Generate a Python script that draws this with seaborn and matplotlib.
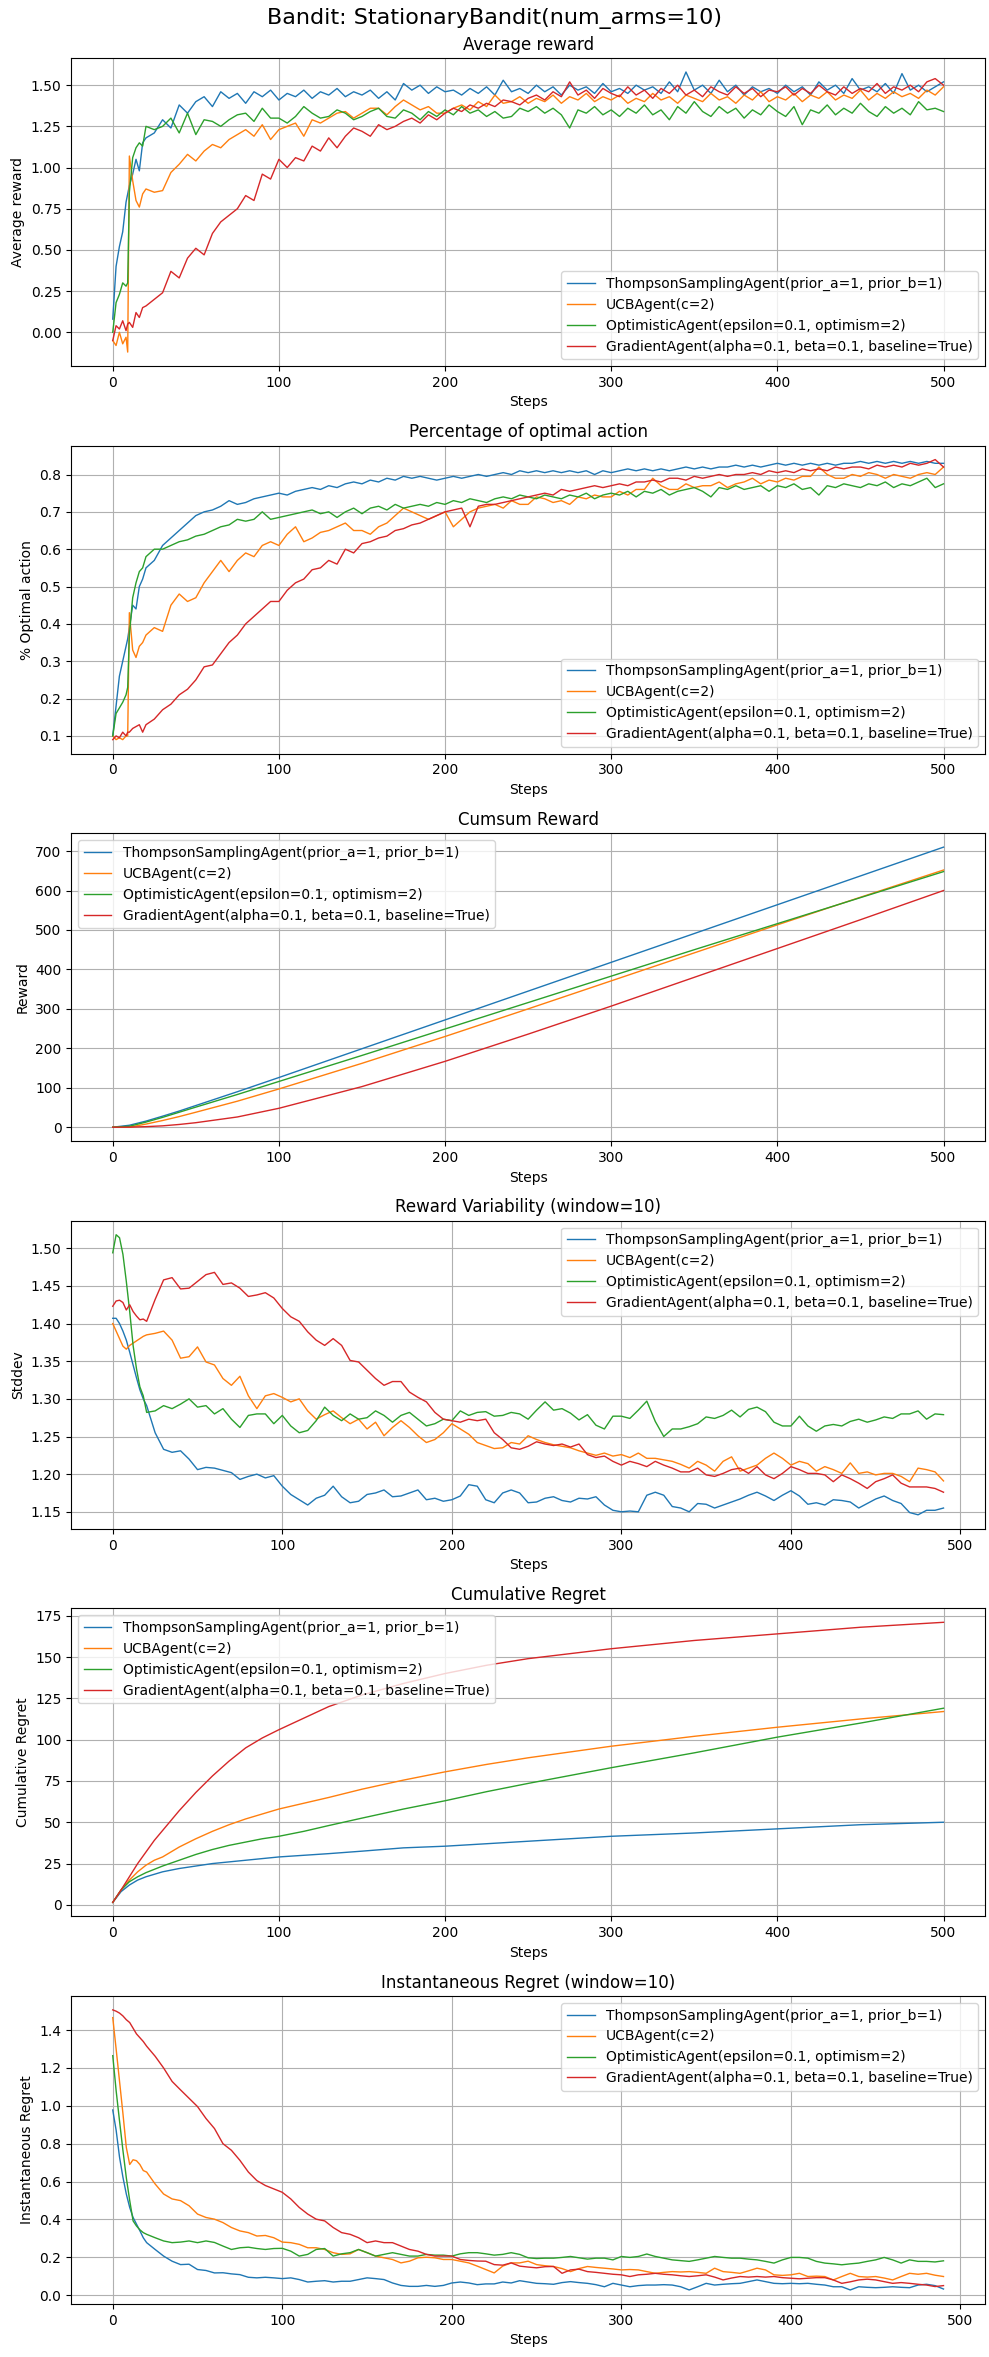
import matplotlib
matplotlib.use("Agg")
import matplotlib.pyplot as plt
import seaborn as sns

AGENTS = [
    "ThompsonSamplingAgent(prior_a=1, prior_b=1)",
    "UCBAgent(c=2)",
    "OptimisticAgent(epsilon=0.1, optimism=2)",
    "GradientAgent(alpha=0.1, beta=0.1, baseline=True)",
]
COLORS = ["#1f77b4", "#ff7f0e", "#2ca02c", "#d62728"]

# steps for the two per-step panels (dense at the start)
STEPS = [0, 2, 4, 6, 8, 9, 10, 12, 14, 16, 18, 20] + list(range(25, 501, 5))

avg_thompson = [
    0.08, 0.40, 0.52, 0.61, 0.79, 0.84, 0.89, 0.96, 1.05, 0.98, 1.15, 1.18,
    1.21, 1.29, 1.24, 1.38, 1.33, 1.40, 1.43, 1.37, 1.46, 1.42, 1.45, 1.39, 1.46, 1.43, 1.47, 1.41,
    1.45, 1.43, 1.47, 1.42, 1.46, 1.44, 1.48, 1.43, 1.46, 1.44, 1.47, 1.42, 1.46, 1.41, 1.51, 1.47,
    1.50, 1.45, 1.49, 1.46, 1.47, 1.44, 1.48, 1.45, 1.49, 1.44, 1.53, 1.46, 1.48, 1.45,
    1.50, 1.46, 1.49, 1.44, 1.50, 1.47, 1.49, 1.45, 1.51, 1.46, 1.48, 1.45, 1.50, 1.47, 1.49, 1.45,
    1.52, 1.46, 1.58, 1.47, 1.50, 1.45, 1.53, 1.46, 1.50, 1.44, 1.49, 1.46, 1.48, 1.45, 1.50, 1.46,
    1.49, 1.44, 1.52, 1.47, 1.50, 1.45, 1.54, 1.47, 1.49, 1.46, 1.51, 1.45, 1.57, 1.47, 1.50, 1.46,
    1.49, 1.52,
]
avg_ucb = [
    -0.05, -0.08, 0.00, -0.07, -0.03, -0.12, 1.07, 0.92, 0.80, 0.76, 0.84, 0.87,
    0.85, 0.86, 0.97, 1.02, 1.08, 1.04, 1.10, 1.14, 1.12, 1.17, 1.20, 1.23, 1.19, 1.26, 1.17, 1.23,
    1.25, 1.27, 1.19, 1.29, 1.27, 1.30, 1.33, 1.34, 1.30, 1.33, 1.36, 1.36, 1.32, 1.37, 1.41, 1.38,
    1.35, 1.37, 1.33, 1.33, 1.36, 1.38, 1.35, 1.40, 1.37, 1.44, 1.39, 1.40, 1.43, 1.39,
    1.42, 1.40, 1.44, 1.39, 1.43, 1.41, 1.45, 1.40, 1.43, 1.41, 1.44, 1.39, 1.42, 1.40, 1.45, 1.41,
    1.43, 1.39, 1.44, 1.42, 1.40, 1.45, 1.41, 1.43, 1.39, 1.44, 1.41, 1.46, 1.40, 1.43, 1.41, 1.45,
    1.40, 1.44, 1.42, 1.46, 1.41, 1.44, 1.42, 1.47, 1.41, 1.45, 1.42, 1.46, 1.43, 1.45, 1.42, 1.47,
    1.44, 1.49,
]
avg_optimistic = [
    0.00, 0.18, 0.23, 0.30, 0.28, 0.30, 0.85, 1.06, 1.12, 1.15, 1.13, 1.25,
    1.23, 1.25, 1.30, 1.21, 1.33, 1.20, 1.29, 1.28, 1.25, 1.29, 1.32, 1.33, 1.28, 1.36, 1.30, 1.30,
    1.27, 1.31, 1.37, 1.33, 1.30, 1.31, 1.35, 1.33, 1.29, 1.31, 1.34, 1.36, 1.31, 1.30, 1.35, 1.33,
    1.29, 1.34, 1.31, 1.35, 1.32, 1.37, 1.33, 1.35, 1.31, 1.34, 1.30, 1.31, 1.36, 1.34,
    1.37, 1.33, 1.36, 1.32, 1.24, 1.35, 1.33, 1.37, 1.32, 1.35, 1.31, 1.36, 1.33, 1.38, 1.32, 1.35,
    1.29, 1.37, 1.33, 1.40, 1.34, 1.31, 1.37, 1.33, 1.36, 1.30, 1.35, 1.32, 1.38, 1.34, 1.31, 1.37,
    1.26, 1.35, 1.33, 1.38, 1.32, 1.36, 1.33, 1.39, 1.34, 1.31, 1.37, 1.33, 1.36, 1.32, 1.40, 1.35,
    1.36, 1.34,
]
avg_gradient = [
    -0.05, 0.04, 0.02, 0.07, 0.01, 0.05, 0.06, 0.03, 0.12, 0.09, 0.15, 0.16,
    0.20, 0.24, 0.37, 0.33, 0.45, 0.51, 0.47, 0.60, 0.67, 0.71, 0.75, 0.83, 0.80, 0.96, 0.93, 1.05,
    1.00, 1.06, 1.04, 1.13, 1.10, 1.18, 1.12, 1.19, 1.24, 1.22, 1.19, 1.26, 1.23, 1.25, 1.28, 1.30,
    1.27, 1.32, 1.29, 1.33, 1.36, 1.34, 1.38, 1.36, 1.39, 1.37, 1.41, 1.40, 1.38, 1.42,
    1.44, 1.41, 1.46, 1.43, 1.52, 1.44, 1.47, 1.42, 1.48, 1.45, 1.43, 1.49, 1.44, 1.47, 1.42, 1.48,
    1.45, 1.50, 1.44, 1.47, 1.43, 1.49, 1.46, 1.44, 1.49, 1.45, 1.48, 1.43, 1.47, 1.46, 1.49, 1.44,
    1.48, 1.45, 1.50, 1.46, 1.44, 1.49, 1.45, 1.48, 1.46, 1.51, 1.45, 1.49, 1.47, 1.50, 1.46, 1.52,
    1.54, 1.50,
]

opt_thompson = [
    0.10, 0.18, 0.26, 0.30, 0.34, 0.36, 0.39, 0.45, 0.44, 0.50, 0.52, 0.55,
    0.57, 0.61, 0.63, 0.65, 0.67, 0.69, 0.70, 0.705, 0.715, 0.73, 0.72, 0.725, 0.735, 0.74, 0.745, 0.75,
    0.745, 0.755, 0.76, 0.765, 0.76, 0.77, 0.765, 0.775, 0.78, 0.775, 0.785, 0.78, 0.79, 0.785, 0.795, 0.79,
    0.795, 0.79, 0.785, 0.79, 0.795, 0.79, 0.795, 0.80, 0.795, 0.80, 0.805, 0.80, 0.81, 0.805,
    0.81, 0.805, 0.81, 0.805, 0.81, 0.805, 0.81, 0.80, 0.81, 0.805, 0.81, 0.815, 0.81, 0.815, 0.81, 0.815,
    0.81, 0.815, 0.82, 0.815, 0.82, 0.815, 0.82, 0.82, 0.825, 0.82, 0.825, 0.82, 0.825, 0.83, 0.825, 0.83,
    0.825, 0.83, 0.825, 0.83, 0.825, 0.83, 0.83, 0.835, 0.83, 0.835, 0.83, 0.835, 0.83, 0.835, 0.83, 0.835,
    0.83, 0.83,
]
opt_ucb = [
    0.10, 0.09, 0.095, 0.09, 0.10, 0.10, 0.43, 0.33, 0.31, 0.34, 0.35, 0.37,
    0.39, 0.38, 0.45, 0.48, 0.46, 0.47, 0.51, 0.54, 0.57, 0.54, 0.57, 0.59, 0.58, 0.61, 0.62, 0.61,
    0.64, 0.66, 0.62, 0.63, 0.645, 0.65, 0.66, 0.67, 0.65, 0.65, 0.64, 0.66, 0.67, 0.69, 0.71, 0.70,
    0.69, 0.68, 0.69, 0.70, 0.66, 0.68, 0.70, 0.71, 0.715, 0.72, 0.71, 0.73, 0.72, 0.72,
    0.74, 0.735, 0.725, 0.73, 0.72, 0.74, 0.735, 0.745, 0.74, 0.74, 0.755, 0.745, 0.76, 0.76, 0.79, 0.77,
    0.76, 0.76, 0.775, 0.765, 0.77, 0.77, 0.78, 0.765, 0.775, 0.78, 0.79, 0.775, 0.785, 0.78, 0.79, 0.785,
    0.795, 0.795, 0.82, 0.80, 0.79, 0.79, 0.80, 0.795, 0.805, 0.80, 0.79, 0.80, 0.795, 0.79, 0.80, 0.805,
    0.80, 0.82,
]
opt_optimistic = [
    0.10, 0.16, 0.175, 0.19, 0.21, 0.23, 0.37, 0.47, 0.51, 0.54, 0.55, 0.58,
    0.60, 0.60, 0.61, 0.62, 0.625, 0.635, 0.64, 0.65, 0.66, 0.665, 0.68, 0.675, 0.68, 0.70, 0.68, 0.685,
    0.69, 0.695, 0.70, 0.705, 0.695, 0.70, 0.685, 0.70, 0.71, 0.695, 0.71, 0.715, 0.705, 0.72, 0.71, 0.715,
    0.72, 0.715, 0.725, 0.72, 0.73, 0.725, 0.735, 0.73, 0.725, 0.735, 0.74, 0.735, 0.745, 0.74,
    0.735, 0.745, 0.74, 0.735, 0.745, 0.74, 0.75, 0.735, 0.745, 0.75, 0.745, 0.755, 0.74, 0.755, 0.75, 0.76,
    0.745, 0.755, 0.76, 0.765, 0.755, 0.74, 0.765, 0.76, 0.77, 0.76, 0.765, 0.77, 0.755, 0.77, 0.765, 0.775,
    0.76, 0.765, 0.745, 0.77, 0.765, 0.775, 0.77, 0.765, 0.775, 0.77, 0.78, 0.765, 0.775, 0.77, 0.78, 0.79,
    0.765, 0.775,
]
opt_gradient = [
    0.09, 0.10, 0.095, 0.11, 0.10, 0.11, 0.11, 0.12, 0.125, 0.13, 0.11, 0.13,
    0.145, 0.17, 0.185, 0.21, 0.225, 0.25, 0.285, 0.29, 0.32, 0.35, 0.37, 0.40, 0.42, 0.44, 0.46, 0.46,
    0.49, 0.51, 0.52, 0.545, 0.55, 0.57, 0.56, 0.60, 0.59, 0.615, 0.62, 0.63, 0.635, 0.65, 0.655, 0.665,
    0.67, 0.68, 0.69, 0.70, 0.705, 0.71, 0.66, 0.715, 0.72, 0.72, 0.725, 0.73, 0.735, 0.74,
    0.745, 0.75, 0.745, 0.76, 0.755, 0.76, 0.765, 0.77, 0.765, 0.77, 0.775, 0.77, 0.78, 0.78, 0.785, 0.78,
    0.79, 0.79, 0.785, 0.795, 0.79, 0.795, 0.80, 0.795, 0.80, 0.80, 0.805, 0.80, 0.81, 0.805, 0.81, 0.805,
    0.815, 0.81, 0.815, 0.81, 0.82, 0.815, 0.82, 0.82, 0.815, 0.825, 0.82, 0.825, 0.82, 0.83, 0.825, 0.83,
    0.84, 0.82,
]

# cumulative reward
CUM_STEPS = [0, 10, 20, 30, 40, 50, 75, 100, 150, 200, 250, 300, 350, 400, 450, 500]
cum_thompson = [0, 5, 15.5, 28, 41, 55, 90, 126, 199, 272, 345, 418, 491, 564, 637, 710]
cum_ucb = [0, 0, 8, 17, 27, 38, 66, 97, 162, 230, 300, 371, 442, 513, 583, 652]
cum_optimistic = [0, 2.5, 13, 25, 38, 51, 83, 116, 182, 249, 316, 383, 450, 516, 582, 648]
cum_gradient = [0, 0.2, 1.5, 3.5, 7, 11.5, 26, 48, 103, 167, 236, 307, 380, 453, 526, 600]

# rolling-window panels (window=10 -> 491 steps)
WIN_STEPS = [0, 2, 4, 6, 8, 10, 12, 14, 16, 18, 20] + list(range(25, 491, 5))

std_thompson = [
    1.407, 1.407, 1.400, 1.390, 1.378, 1.362, 1.345, 1.328, 1.312, 1.300, 1.291,
    1.255, 1.233, 1.229, 1.231, 1.220, 1.206, 1.209, 1.208, 1.205, 1.202, 1.193, 1.197, 1.200, 1.195,
    1.198, 1.184, 1.173, 1.166, 1.159, 1.168, 1.172, 1.184, 1.170, 1.162, 1.164, 1.173, 1.175, 1.179,
    1.170, 1.171, 1.175, 1.179, 1.166, 1.168, 1.164, 1.166, 1.171, 1.186, 1.184, 1.166, 1.162, 1.175,
    1.179, 1.175, 1.162, 1.163,
    1.168, 1.170, 1.165, 1.163, 1.168, 1.167, 1.170, 1.159, 1.152, 1.150, 1.151, 1.150, 1.172, 1.176,
    1.172, 1.157, 1.155, 1.150, 1.161, 1.160, 1.155, 1.159, 1.163, 1.167, 1.172, 1.176, 1.171, 1.165,
    1.172, 1.178, 1.171, 1.160, 1.162, 1.159, 1.166, 1.165, 1.163, 1.155, 1.161, 1.167, 1.171, 1.165,
    1.161, 1.149, 1.146, 1.152, 1.152, 1.155,
]
std_ucb = [
    1.400, 1.390, 1.380, 1.370, 1.366, 1.371, 1.374, 1.377, 1.380, 1.383, 1.385,
    1.387, 1.390, 1.378, 1.354, 1.356, 1.369, 1.349, 1.345, 1.327, 1.318, 1.330, 1.304, 1.287, 1.304,
    1.307, 1.302, 1.296, 1.300, 1.284, 1.273, 1.279, 1.284, 1.275, 1.267, 1.273, 1.260, 1.269, 1.251,
    1.262, 1.271, 1.262, 1.251, 1.242, 1.246, 1.255, 1.267, 1.260, 1.253, 1.242, 1.238, 1.234, 1.235,
    1.242, 1.240, 1.251, 1.246,
    1.242, 1.239, 1.237, 1.235, 1.231, 1.228, 1.225, 1.228, 1.224, 1.226, 1.222, 1.228, 1.221, 1.221,
    1.219, 1.217, 1.213, 1.208, 1.217, 1.212, 1.204, 1.217, 1.223, 1.204, 1.208, 1.212, 1.221, 1.228,
    1.221, 1.212, 1.217, 1.214, 1.204, 1.210, 1.206, 1.201, 1.215, 1.201, 1.203, 1.199, 1.201, 1.201,
    1.197, 1.190, 1.208, 1.206, 1.203, 1.191,
]
std_optimistic = [
    1.494, 1.518, 1.514, 1.492, 1.456, 1.416, 1.371, 1.340, 1.316, 1.304, 1.282,
    1.284, 1.291, 1.287, 1.293, 1.300, 1.289, 1.291, 1.280, 1.287, 1.273, 1.262, 1.278, 1.280, 1.280,
    1.267, 1.278, 1.264, 1.255, 1.258, 1.271, 1.289, 1.278, 1.271, 1.280, 1.273, 1.275, 1.284, 1.278,
    1.269, 1.278, 1.282, 1.273, 1.264, 1.267, 1.273, 1.271, 1.284, 1.278, 1.282, 1.283, 1.277, 1.278,
    1.282, 1.280, 1.273, 1.285,
    1.296, 1.285, 1.287, 1.281, 1.272, 1.279, 1.265, 1.260, 1.277, 1.277, 1.274, 1.285, 1.297, 1.270,
    1.250, 1.260, 1.260, 1.263, 1.267, 1.276, 1.274, 1.278, 1.285, 1.276, 1.286, 1.289, 1.283, 1.269,
    1.264, 1.264, 1.277, 1.264, 1.257, 1.264, 1.266, 1.264, 1.270, 1.273, 1.269, 1.272, 1.276, 1.274,
    1.280, 1.280, 1.284, 1.273, 1.280, 1.279,
]
std_gradient = [
    1.423, 1.430, 1.431, 1.428, 1.418, 1.425, 1.416, 1.410, 1.405, 1.406, 1.403,
    1.432, 1.458, 1.461, 1.446, 1.447, 1.456, 1.465, 1.468, 1.452, 1.454, 1.447, 1.436, 1.438, 1.441,
    1.434, 1.420, 1.409, 1.403, 1.389, 1.378, 1.371, 1.380, 1.371, 1.351, 1.349, 1.338, 1.327, 1.318,
    1.323, 1.323, 1.309, 1.302, 1.296, 1.282, 1.273, 1.271, 1.269, 1.273, 1.271, 1.273, 1.255, 1.246,
    1.235, 1.233, 1.237, 1.243,
    1.240, 1.238, 1.240, 1.236, 1.240, 1.226, 1.222, 1.224, 1.217, 1.212, 1.217, 1.214, 1.210, 1.217,
    1.212, 1.208, 1.203, 1.203, 1.208, 1.199, 1.197, 1.201, 1.206, 1.208, 1.201, 1.210, 1.199, 1.194,
    1.201, 1.210, 1.206, 1.201, 1.201, 1.199, 1.190, 1.199, 1.194, 1.188, 1.181, 1.190, 1.194, 1.199,
    1.188, 1.183, 1.183, 1.183, 1.181, 1.176,
]

# cumulative regret
REG_STEPS = [0, 5, 10, 15, 20, 25, 30, 40, 50, 60, 70, 80, 90, 100, 115, 130, 150, 175,
             200, 225, 250, 300, 350, 400, 450, 500]
reg_thompson = [1.5, 8, 12, 15, 17, 18.5, 20, 22, 23.5, 25, 26, 27, 28, 29, 30, 31, 32.5, 34.5,
                35.5, 37, 38.5, 41.5, 43.5, 46, 48.5, 50]
reg_ucb = [1.5, 9, 15, 20, 24, 27, 29, 35, 40, 44.5, 48.5, 52, 55, 58, 61.5, 65, 70, 75.5,
           80.5, 85, 89, 96, 102, 107.5, 112.5, 117]
reg_optimistic = [1.5, 9, 14, 17, 19.5, 21.5, 23.5, 27, 30.5, 33.5, 36, 38, 40, 41.5, 44.5, 48, 52.5, 58,
                  63, 68.5, 73.5, 83, 92, 101.5, 110, 119]
reg_gradient = [1.5, 9, 17, 25, 32, 39, 45, 57, 68, 78, 87, 95, 101, 106, 113, 120, 127, 134,
                140, 145, 149, 155, 160, 164, 168, 171]

inst_thompson = [
    0.978, 0.871, 0.729, 0.623, 0.534, 0.463, 0.410, 0.375, 0.340, 0.303, 0.277,
    0.241, 0.206, 0.179, 0.161, 0.163, 0.135, 0.130, 0.117, 0.118, 0.112, 0.108, 0.094, 0.091, 0.094,
    0.091, 0.087, 0.091, 0.082, 0.069, 0.073, 0.076, 0.069, 0.073, 0.073, 0.082, 0.091, 0.087, 0.082,
    0.064, 0.051, 0.046, 0.046, 0.051, 0.046, 0.051, 0.064, 0.069, 0.064, 0.055, 0.059, 0.059, 0.069,
    0.064, 0.076, 0.069, 0.062,
    0.060, 0.057, 0.066, 0.071, 0.066, 0.062, 0.055, 0.044, 0.062, 0.053, 0.044, 0.050, 0.053, 0.053,
    0.055, 0.053, 0.044, 0.027, 0.044, 0.062, 0.053, 0.057, 0.060, 0.062, 0.071, 0.080, 0.071, 0.062,
    0.060, 0.062, 0.060, 0.062, 0.057, 0.053, 0.044, 0.044, 0.027, 0.044, 0.041, 0.039, 0.041, 0.044,
    0.041, 0.039, 0.053, 0.057, 0.050, 0.032,
]
inst_ucb = [
    1.466, 1.300, 1.130, 0.960, 0.780, 0.690, 0.715, 0.710, 0.690, 0.658, 0.650,
    0.587, 0.534, 0.508, 0.499, 0.472, 0.428, 0.410, 0.401, 0.383, 0.357, 0.339, 0.330, 0.312, 0.315,
    0.303, 0.280, 0.277, 0.268, 0.250, 0.250, 0.241, 0.224, 0.215, 0.218, 0.241, 0.224, 0.206, 0.197,
    0.188, 0.170, 0.179, 0.197, 0.200, 0.197, 0.188, 0.188, 0.179, 0.170, 0.153, 0.135, 0.117, 0.153,
    0.170, 0.170, 0.179, 0.161,
    0.155, 0.151, 0.140, 0.124, 0.140, 0.151, 0.146, 0.142, 0.138, 0.133, 0.135, 0.133, 0.124, 0.115,
    0.120, 0.124, 0.122, 0.124, 0.120, 0.115, 0.142, 0.124, 0.120, 0.115, 0.128, 0.142, 0.133, 0.107,
    0.104, 0.107, 0.115, 0.098, 0.100, 0.098, 0.080, 0.098, 0.115, 0.098, 0.095, 0.098, 0.090, 0.080,
    0.098, 0.115, 0.110, 0.115, 0.105, 0.098,
]
inst_optimistic = [
    1.265, 1.080, 0.920, 0.765, 0.620, 0.500, 0.392, 0.365, 0.345, 0.330, 0.321,
    0.303, 0.286, 0.277, 0.280, 0.286, 0.277, 0.286, 0.278, 0.259, 0.241, 0.250, 0.253, 0.246, 0.241,
    0.246, 0.247, 0.232, 0.206, 0.215, 0.241, 0.246, 0.206, 0.218, 0.224, 0.241, 0.224, 0.206, 0.215,
    0.224, 0.215, 0.206, 0.206, 0.215, 0.211, 0.211, 0.206, 0.218, 0.224, 0.224, 0.218, 0.211, 0.215,
    0.224, 0.215, 0.197, 0.193,
    0.195, 0.195, 0.199, 0.204, 0.197, 0.190, 0.195, 0.195, 0.186, 0.204, 0.199, 0.204, 0.217, 0.204,
    0.195, 0.186, 0.182, 0.178, 0.186, 0.195, 0.204, 0.199, 0.195, 0.195, 0.190, 0.186, 0.178, 0.169,
    0.186, 0.199, 0.199, 0.195, 0.178, 0.169, 0.165, 0.160, 0.165, 0.169, 0.178, 0.186, 0.199, 0.186,
    0.169, 0.186, 0.178, 0.178, 0.175, 0.181,
]
inst_gradient = [
    1.507, 1.500, 1.490, 1.475, 1.455, 1.440, 1.410, 1.380, 1.360, 1.340, 1.315,
    1.262, 1.200, 1.129, 1.084, 1.040, 0.996, 0.933, 0.880, 0.800, 0.765, 0.712, 0.650, 0.605, 0.579,
    0.561, 0.543, 0.508, 0.463, 0.428, 0.401, 0.392, 0.357, 0.330, 0.321, 0.303, 0.277, 0.286, 0.277,
    0.277, 0.259, 0.241, 0.232, 0.215, 0.206, 0.206, 0.206, 0.188, 0.183, 0.180, 0.179, 0.161, 0.158,
    0.170, 0.153, 0.148, 0.144,
    0.150, 0.151, 0.115, 0.133, 0.137, 0.124, 0.120, 0.115, 0.110, 0.107, 0.098, 0.107, 0.110, 0.115,
    0.110, 0.107, 0.102, 0.098, 0.102, 0.107, 0.095, 0.080, 0.090, 0.098, 0.095, 0.098, 0.095, 0.098,
    0.092, 0.089, 0.086, 0.089, 0.092, 0.092, 0.080, 0.062, 0.070, 0.080, 0.084, 0.080, 0.071, 0.062,
    0.066, 0.062, 0.057, 0.053, 0.045, 0.050,
]


def draw_panel(ax, steps, series, title, ylabel, legend_loc):
    for name, values, color in zip(AGENTS, series, COLORS):
        sns.lineplot(x=steps, y=values, ax=ax, label=name, color=color, linewidth=1)
    ax.set_title(title, fontsize=12)
    ax.set_xlabel("Steps")
    ax.set_ylabel(ylabel)
    ax.grid(True, color="#b0b0b0", linewidth=0.8)
    ax.legend(loc=legend_loc, fontsize=10)


fig, axes = plt.subplots(6, 1, figsize=(9.89, 23.57), dpi=100)

draw_panel(axes[0], STEPS, [avg_thompson, avg_ucb, avg_optimistic, avg_gradient],
           "Average reward", "Average reward", "lower right")
draw_panel(axes[1], STEPS, [opt_thompson, opt_ucb, opt_optimistic, opt_gradient],
           "Percentage of optimal action", "% Optimal action", "lower right")
draw_panel(axes[2], CUM_STEPS, [cum_thompson, cum_ucb, cum_optimistic, cum_gradient],
           "Cumsum Reward", "Reward", "upper left")
draw_panel(axes[3], WIN_STEPS, [std_thompson, std_ucb, std_optimistic, std_gradient],
           "Reward Variability (window=10)", "Stddev", "upper right")
draw_panel(axes[4], REG_STEPS, [reg_thompson, reg_ucb, reg_optimistic, reg_gradient],
           "Cumulative Regret", "Cumulative Regret", "upper left")
draw_panel(axes[5], WIN_STEPS, [inst_thompson, inst_ucb, inst_optimistic, inst_gradient],
           "Instantaneous Regret (window=10)", "Instantaneous Regret", "upper right")

fig.suptitle("Bandit: StationaryBandit(num_arms=10)", fontsize=16, y=0.9965, va="top")
plt.subplots_adjust(left=0.072, right=0.996, top=0.9754, bottom=0.0225, hspace=0.258)
plt.savefig("out.png", dpi=100)
plt.close(fig)
